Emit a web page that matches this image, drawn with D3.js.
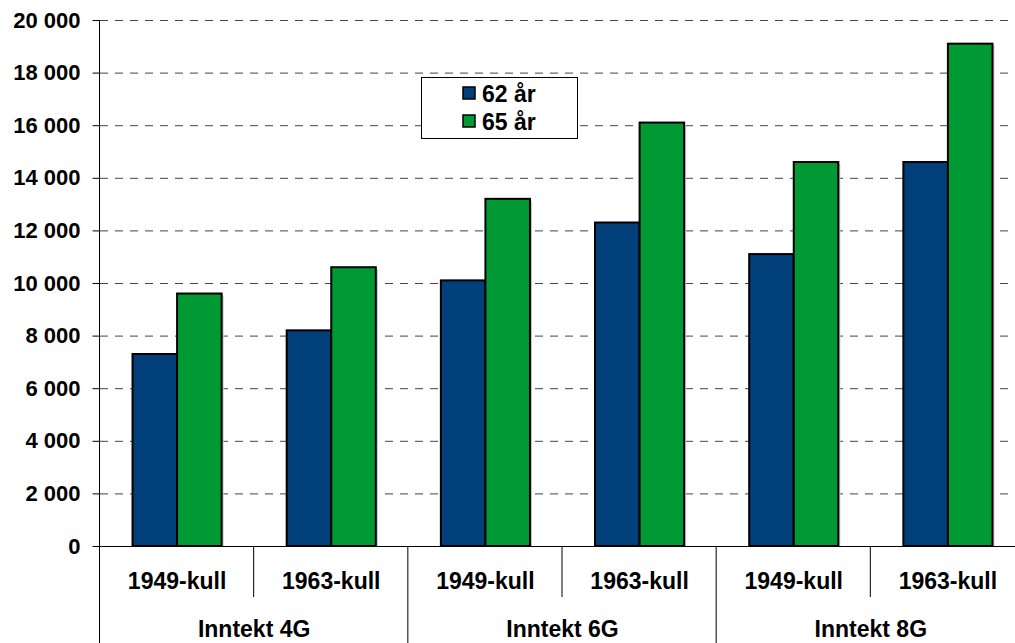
<!DOCTYPE html>
<html>
<head>
<meta charset="utf-8">
<script src="https://cdn.jsdelivr.net/npm/d3@7"></script>
<style>
  body { margin: 0; background: #fff; }
  svg text { font-family: "Liberation Sans", Arial, sans-serif; font-weight: bold; fill: #000; }
</style>
</head>
<body>
<div id="chart"></div>
<script>
var groups = ["Inntekt 4G", "Inntekt 6G", "Inntekt 8G"];
var cohorts = ["1949-kull", "1963-kull"];
var seriesNames = ["62 år", "65 år"];
var colors = ["#003f7a", "#009933"];
var age62 = [7300, 8200, 10100, 12300, 11100, 14600];
var age65 = [9600, 10600, 13200, 16100, 14600, 19100];
var yTicks = [0, 2000, 4000, 6000, 8000, 10000, 12000, 14000, 16000, 18000, 20000];

var width = 1015, height = 643;
var plotLeft = 100, plotRight = 1025, plotTop = 20, plotBottom = 546;

var cats = [];
groups.forEach(function(g, gi) {
  cohorts.forEach(function(c, ci) {
    var i = gi * 2 + ci;
    cats.push({ id: g + "|" + c, group: g, cohort: c, values: [age62[i], age65[i]] });
  });
});

var svg = d3.select("#chart").append("svg").attr("width", width).attr("height", height);

var x = d3.scaleBand().domain(cats.map(function(d) { return d.id; })).range([plotLeft, plotRight]);
var xg = d3.scaleBand().domain(groups).range([plotLeft, plotRight]);
var xs = d3.scaleBand().domain(seriesNames).range([0, x.bandwidth()]).paddingOuter(0.73);
var y = d3.scaleLinear().domain([0, 20000]).range([plotBottom, plotTop]);

var fmt = function(v) { return d3.format(",")(v).replace(/,/g, " "); };

// gridlines
svg.append("g").selectAll("line")
  .data(yTicks.filter(function(t) { return t > 0; }))
  .enter().append("line")
  .attr("x1", plotLeft).attr("x2", width)
  .attr("y1", function(d) { return y(d) + 0.5; })
  .attr("y2", function(d) { return y(d) + 0.5; })
  .attr("stroke", "#444").attr("stroke-width", 1)
  .attr("stroke-dasharray", "8,7");

// bars
var cat = svg.selectAll(".cat").data(cats).enter().append("g")
  .attr("class", "cat")
  .attr("transform", function(d) { return "translate(" + x(d.id) + ",0)"; });

cat.selectAll(".shadow")
  .data(function(d) { return d.values; })
  .enter().append("rect")
  .attr("x", function(d, i) { return xs(seriesNames[i]) + 2; })
  .attr("y", function(d) { return y(d) + 2; })
  .attr("width", xs.bandwidth())
  .attr("height", function(d) { return plotBottom - y(d) - 2; })
  .attr("fill", "#c8c8c8");

cat.selectAll(".bar")
  .data(function(d) { return d.values; })
  .enter().append("rect")
  .attr("class", "bar")
  .attr("x", function(d, i) { return xs(seriesNames[i]); })
  .attr("y", function(d) { return y(d); })
  .attr("width", xs.bandwidth())
  .attr("height", function(d) { return plotBottom - y(d); })
  .attr("fill", function(d, i) { return colors[i]; })
  .attr("stroke", "#000").attr("stroke-width", 2);

// y axis
var yAxis = svg.append("g")
  .attr("transform", "translate(" + (plotLeft - 0.5) + ",0)")
  .call(d3.axisLeft(y).tickValues(yTicks).tickFormat(fmt).tickSize(7).tickPadding(12));
yAxis.select(".domain").remove();
yAxis.selectAll("line").attr("stroke", "#000");
yAxis.selectAll("text").style("font-size", "22px").attr("fill", "#000");
svg.append("line")
  .attr("x1", plotLeft - 0.5).attr("x2", plotLeft - 0.5)
  .attr("y1", plotTop).attr("y2", height)
  .attr("stroke", "#000");

// x axis baseline
svg.append("line")
  .attr("x1", plotLeft).attr("x2", width)
  .attr("y1", plotBottom + 0.5).attr("y2", plotBottom + 0.5)
  .attr("stroke", "#000");

// category separators and labels
svg.append("g").selectAll("line")
  .data(cats.filter(function(d, i) { return i % 2 === 1; }))
  .enter().append("line")
  .attr("x1", function(d) { return x(d.id) - 0.5; })
  .attr("x2", function(d) { return x(d.id) - 0.5; })
  .attr("y1", plotBottom).attr("y2", plotBottom + 51)
  .attr("stroke", "#000");

svg.append("g").selectAll("text")
  .data(cats).enter().append("text")
  .attr("x", function(d) { return x(d.id) + x.bandwidth() / 2; })
  .attr("y", 589)
  .attr("text-anchor", "middle")
  .style("font-size", "23px")
  .text(function(d) { return d.cohort; });

svg.append("g").selectAll("line")
  .data(groups.slice(1))
  .enter().append("line")
  .attr("x1", function(d) { return xg(d) - 0.5; })
  .attr("x2", function(d) { return xg(d) - 0.5; })
  .attr("y1", plotBottom).attr("y2", height)
  .attr("stroke", "#000");

svg.append("g").selectAll("text")
  .data(groups).enter().append("text")
  .attr("x", function(d) { return xg(d) + xg.bandwidth() / 2; })
  .attr("y", 637)
  .attr("text-anchor", "middle")
  .style("font-size", "23px")
  .text(function(d) { return d; });

// legend
var legend = svg.append("g").attr("transform", "translate(421,77)");
legend.append("rect")
  .attr("x", 0.5).attr("y", 0.5).attr("width", 156).attr("height", 61)
  .attr("fill", "#fff").attr("stroke", "#000");
var li = legend.selectAll(".li").data(seriesNames).enter().append("g")
  .attr("transform", function(d, i) { return "translate(0," + (i * 28) + ")"; });
li.append("rect")
  .attr("x", 42).attr("y", 10).attr("width", 12).attr("height", 12)
  .attr("fill", function(d, i) { return colors[i]; })
  .attr("stroke", "#000").attr("stroke-width", 1.5);
li.append("text")
  .attr("x", 61).attr("y", 25)
  .style("font-size", "23px")
  .text(function(d) { return d; });
</script>
</body>
</html>
